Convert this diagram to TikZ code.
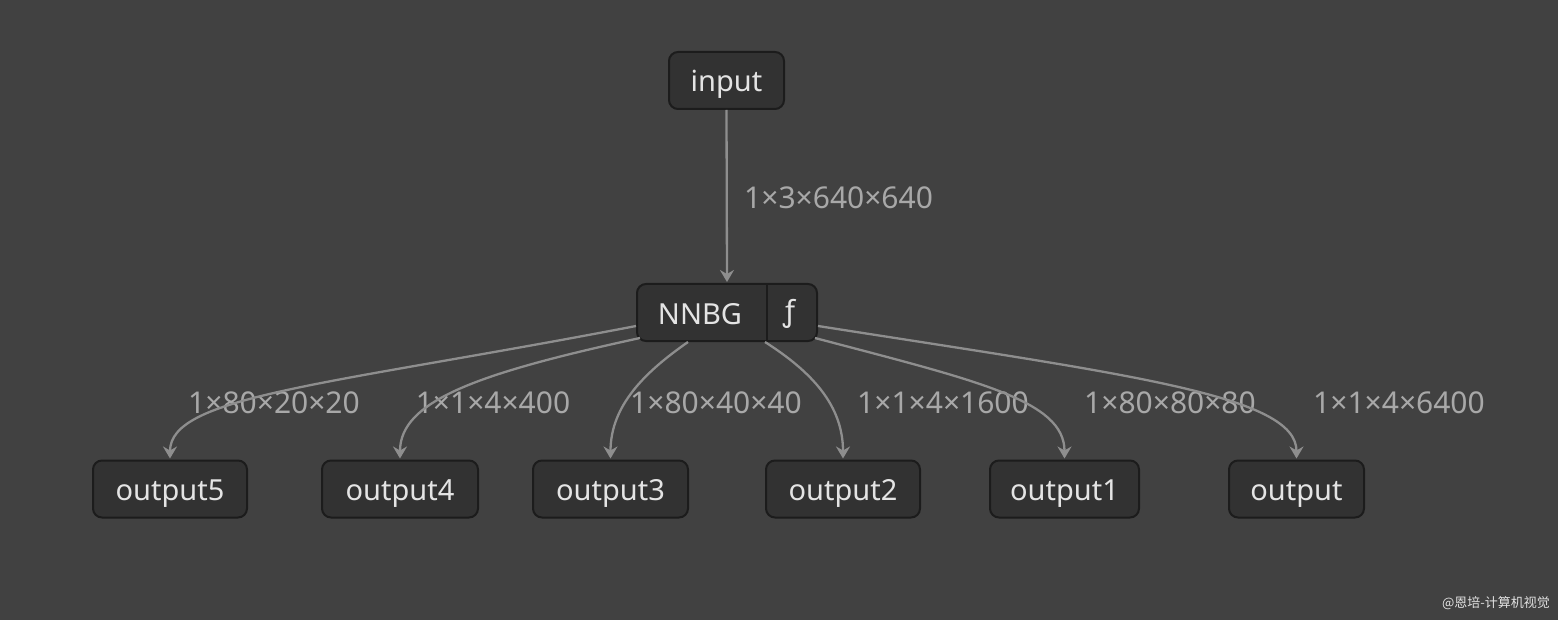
\documentclass[tikz,border=0pt]{standalone}
\usepackage{fontspec}
\setmainfont{Noto Sans}
\newfontfamily\cjk{Noto Sans CJK SC}
\usetikzlibrary{arrows.meta,calc}
\definecolor{bgc}{HTML}{414141}
\definecolor{nodefill}{HTML}{323232}
\definecolor{nodeborder}{HTML}{1C1C1C}
\definecolor{txt}{HTML}{E4E4E4}
\definecolor{edgec}{HTML}{8E8E8E}
\definecolor{lblc}{HTML}{A8A8A8}
\tikzset{
  box/.style={draw=nodeborder, fill=nodefill, line width=2pt, rounded corners=9pt,
    minimum height=57pt, inner sep=0pt, text=txt, text height=25pt, text depth=3pt,
    font=\fontsize{29}{32}\selectfont},
  txtonly/.style={inner sep=0pt, text=txt, font=\fontsize{29}{32}\selectfont},
  lbl/.style={inner sep=0pt, text=lblc, font=\fontsize{30}{33}\selectfont},
  conn/.style={draw=edgec, line width=2.3pt, -{Stealth[length=12pt,width=14pt,inset=4pt]}}
}
\begin{document}
\begin{tikzpicture}[x=1pt,y=-1pt]
\useasboundingbox (0,0) rectangle (1558,620);
\fill[bgc] (0,0) rectangle (1558,620);

% nodes
\node[box, minimum width=115pt] (input) at (726.5,80.5) {input};
\node[box, minimum width=180pt] (nnbg) at (727,312.5) {};
\draw[nodeborder, line width=2pt] (767,284) coordinate (dtop) -- (767,341) coordinate (dbot);
\node[txtonly] (nnbgtxt) at (700,314) {NNBG};
\node[txtonly] (ftxt) at (789,314) {ƒ};

\node[box, minimum width=154pt] (o5) at (170,489) {output5};
\node[box, minimum width=156pt] (o4) at (400,489) {output4};
\node[box, minimum width=155pt] (o3) at (610.5,489) {output3};
\node[box, minimum width=154pt] (o2) at (843,489) {output2};
\node[box, minimum width=149pt] (o1) at (1064.5,489) {output1};
\node[box, minimum width=135pt] (o0) at (1296.5,489) {output};

% labels
\node[lbl, anchor=west] (l0) at (744,198) {1×3×640×640};
\node[lbl] (l5) at (274,403) {1×80×20×20};
\node[lbl] (l4) at (493,403) {1×1×4×400};
\node[lbl] (l3) at (716,403) {1×80×40×40};
\node[lbl] (l2) at (943,403) {1×1×4×1600};
\node[lbl] (l1) at (1170,403) {1×80×80×80};
\node[lbl] (l00) at (1399,403) {1×1×4×6400};

% connectors
\draw[conn] (input.south) -- ($(nnbg.north)+(0,-1)$);
\draw[conn] ($(nnbg.west)+(0,13.5)$) .. controls +(-307,59) and +(0,-63) .. ($(o5.north)+(0,-1)$);
\draw[conn] ($(nnbg.south west)+(4,-4)$) .. controls +(-161,35) and +(0,-58) .. ($(o4.north)+(0,-1)$);
\draw[conn] ($(nnbg.south)+(-39,0)$) .. controls +(-43,30) and +(0,-53) .. ($(o3.north)+(0,-1)$);
\draw[conn] ($(nnbg.south)+(38,0)$) .. controls +(47,30) and +(0,-53) .. ($(o2.north)+(0,-1)$);
\draw[conn] ($(nnbg.south east)+(-3,-4)$) .. controls +(163,43) and +(0,-58) .. ($(o1.north)+(0,-1)$);
\draw[conn] ($(nnbg.east)+(0,13.5)$) .. controls +(313,49) and +(0,-63) .. ($(o0.north)+(0,-1)$);

% watermark
\node[inner sep=0pt, text=white!85!bgc, font=\cjk\fontsize{13}{15}\selectfont] (wm) at (1496,603) {@恩培-计算机视觉};
\end{tikzpicture}
\end{document}
